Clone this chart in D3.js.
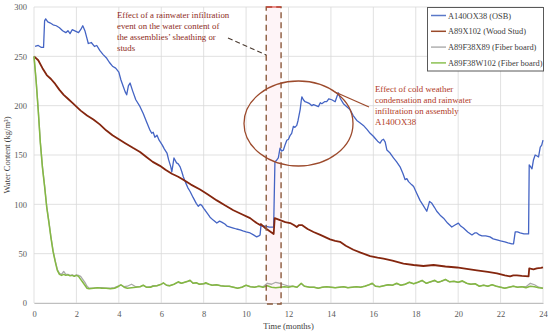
<!DOCTYPE html>
<html><head><meta charset="utf-8">
<script src="https://cdn.jsdelivr.net/npm/d3@7"></script>
<style>body{margin:0;background:#fff}svg{display:block}</style>
</head><body>
<svg id="c" width="550" height="333"></svg>
<script>
// ---------- DATA ----------
const xTicks = [0,2,4,6,8,10,12,14,16,18,20,22,24];
const yTicks = [0,50,100,150,200,250,300];
const seriesNames = ["A140OX38 (OSB)","A89X102 (Wood Stud)","A89F38X89 (Fiber board)","A89F38W102 (Fiber board)"];

const osbMonths = [0.05,0.2,0.35,0.45,0.5,0.55,0.65,0.75,0.9,1.05,1.2,1.35,1.5,1.6,1.7,1.8,1.9,2.0,2.1,2.2,2.3,2.4,2.5,2.56,2.7,2.85,2.96,3.1,3.25,3.43,3.55,3.7,3.85,4.0,4.1,4.2,4.3,4.37,4.45,4.53,4.65,4.8,5.0,5.15,5.3,5.45,5.55,5.62,5.7,5.8,5.9,6.05,6.15,6.27,6.35,6.45,6.5,6.55,6.6,6.65,6.72,6.8,6.89,6.97,7.04,7.15,7.25,7.36,7.5,7.65,7.75,7.83,7.91,8.0,8.07,8.2,8.3,8.45,8.62,8.75,8.85,9.0,9.1,9.25,9.4,9.55,9.72,9.85,10.0,10.19,10.35,10.5,10.6,10.66,10.7,10.9,11.1,11.3,11.36,11.45,11.52,11.6,11.68,11.76,11.85,11.92,12.0,12.08,12.15,12.23,12.3,12.39,12.45,12.55,12.6,12.63,12.7,12.78,12.9,13.0,13.1,13.18,13.3,13.41,13.5,13.57,13.7,13.8,13.9,14.04,14.12,14.2,14.28,14.35,14.45,14.59,14.75,14.9,15.05,15.22,15.35,15.53,15.7,15.85,16.0,16.08,16.2,16.32,16.4,16.48,16.56,16.64,16.79,16.95,17.1,17.26,17.4,17.5,17.58,17.66,17.8,17.9,18.05,18.2,18.35,18.52,18.6,18.65,18.76,18.88,18.99,19.15,19.31,19.5,19.7,19.85,20.01,20.12,20.25,20.45,20.65,20.78,20.88,21.0,21.12,21.3,21.5,21.65,21.83,22.0,22.2,22.35,22.53,22.61,22.69,22.8,22.92,23.1,23.32,23.35,23.42,23.48,23.55,23.63,23.72,23.79,23.87,23.94,24.0];
const osbValues = [260,261,259,259,286,288,285,284,282,281,279,276,274,276,273,277,276,275,274,277,281,276,268,263,264,260,261,256,252,248,244,240,238,234,226,220,214,211,220,223,215,206,199,192,184,176,172,173,168,170,165,160,156,152,145,138,133,140,147,145,142,141,138,133,128,122,117,113,107,101,98,100,99,96,94,90,87,84,81,83,82,80,78,77,76,75,74,73,72,71,69,67,68,69,78,78,77,77,143,145,147,157,154,155,161,165,166,170,172,179,178,180,185,196,205,209,206,204,203,202,200,201,200,199,203,202,204,204,207,206,205,204,209,213,207,202,199,196,190,185,183,180,176,172,169,167,164,162,165,166,163,155,152,147,143,138,131,125,126,123,120,118,111,104,99,93,99,103,101,97,93,89,86,81,77,79,81,78,76,72,69,71,71,69,68,68,67,65,64,63,62,61,60,60,72,72,71,70,70,140,138,136,145,150,149,148,158,160,165];

const studMonths = [0,0.2,0.4,0.6,0.8,1.0,1.2,1.4,1.6,1.8,2.0,2.2,2.5,2.8,3.1,3.4,3.7,4.0,4.3,4.68,5.0,5.3,5.6,5.94,6.2,6.5,6.8,7.04,7.4,7.83,8.2,8.62,9.0,9.4,9.8,10.19,10.5,10.66,10.7,10.9,11.1,11.3,11.35,11.6,11.85,12.08,12.25,12.39,12.5,12.63,12.9,13.18,13.5,13.96,14.2,14.43,14.7,15.06,15.4,15.85,16.2,16.48,16.9,17.42,17.9,18.36,18.6,18.84,19.4,19.94,20.4,20.88,21.4,21.83,22.2,22.45,22.6,22.77,23.0,23.32,23.35,23.55,23.71,23.9,24.0];
const studValues = [250,246,238,231,227,222,216,211,207,203,199,195,190,186,181,175,170,166,162,157,153,148,143,139,135,131,128,125,120,115,110,104,99,94,90,86,81,79,80,76,73,70,86,84,82,81,79,77,79,79,75,72,69,64.5,63,62,58,54,51,47.6,46,45,43,40,38.5,37.5,38,38.5,37,36,34.5,33,31.5,30,28,27,28,28,27.5,27,35,34,35,35.5,36];

const fiberMonths = [0,0.1,0.2,0.3,0.4,0.5,0.6,0.7,0.8,0.9,1.0,1.1,1.2,1.3,1.4,1.5,1.6,1.7,1.8,1.9,2.0,2.1,2.2,2.3,2.4,2.5,2.6,2.8,3.0,3.2,3.4,3.6,3.8,4.0,4.1,4.25,4.4,4.6,4.8,5.0,5.15,5.3,5.5,5.6,5.8,6.0,6.1,6.25,6.4,6.6,6.8,6.95,7.1,7.25,7.36,7.5,7.65,7.8,8.0,8.1,8.25,8.4,8.6,8.8,9.0,9.2,9.4,9.6,9.8,10.0,10.2,10.4,10.6,10.8,11.0,11.2,11.4,11.6,11.8,12.0,12.2,12.4,12.6,12.75,13.0,13.2,13.4,13.6,13.8,14.0,14.2,14.4,14.6,14.8,15.0,15.2,15.4,15.6,15.8,15.95,16.1,16.3,16.5,16.7,16.9,17.1,17.3,17.5,17.7,17.9,18.1,18.3,18.5,18.7,18.9,19.05,19.2,19.4,19.6,19.8,20.0,20.2,20.4,20.6,20.8,21.0,21.2,21.4,21.6,21.8,22.0,22.2,22.4,22.6,22.8,23.0,23.2,23.4,23.6,23.8,24.0];
const fiberX89Values = [250,226,196,163,138,119,98,83,67,53,43,34,30,29,32,29,29,28,28.5,27.5,28.5,28,27,24,21,17,15,15,15.5,15.5,15,15,15.5,17.5,18,16.5,17,19,16.5,16.5,18,16,16.5,17.5,17.5,19,20,18,17.5,19,21,20,21,22,22.5,20,20.5,19,19.5,20,19,18,18.5,17.5,17,17,16,15,16,18,16.5,16,17,16.5,20,19,21,20,18.5,17,17,16,19.5,17,16,16,15,16,16.5,16,15.5,16,16.5,15.5,16,16.5,16,17,18.5,19.5,17,16.5,17.5,18.5,18,19.5,18,19,21,19.5,21,22.5,20,21.5,22.5,21,22,23.5,21.5,22,21,22,20,19,19.5,17,18,17,18.5,17,16,15,16,17,16,16.5,16.5,20,18.5,16,15];
const fiberW102Values = [250,225,195,162,137,118,97,82,66,52,42,33,29,28,29,28,28.5,27.5,28,27,28,27,24,21,18,15,14.5,15,15.5,15,15,14.5,15,17,18.5,16,15,15.5,16,16.5,18,16,16,17,17.5,19,20.5,18,17.5,19,21.5,20,21,22,23,20,20.5,19,19.5,20.5,19,18,18.5,17.5,17,17,16,15,16,18,16.5,16,17,16,17.5,16,15.5,16,16.5,16,17,16,20,17,16,16,15,16,16.5,16,15.5,16,16.5,15.5,16,16.5,16,17,18.5,20,17,16.5,17.5,18.5,18,20,18,19,21,19.5,21,23,20,21.5,23,21,22,24,21.5,22,21,22.5,20,19,19.5,17,18,17,18.5,17,16,15,16,17,16,16.5,15.5,17,16.5,15.5,15];

const colors = ["#4464c4","#84260e","#a9a9a9","#84b942"];
const legendColors = ["#5a78c8","#9a4a2a","#b0b0b0","#8cc152"];

// ---------- LAYOUT ----------
const svg = d3.select("#c");
const m = {l:34, r:543, t:7, b:303};
const x = d3.scaleLinear().domain([0,24]).range([m.l, m.r]);
const y = d3.scaleLinear().domain([0,300]).range([m.b, m.t]);
const FONT = "'Liberation Serif','Times New Roman',serif";

// grid
svg.append("g").selectAll("line").data(yTicks).join("line")
  .attr("x1", m.l).attr("x2", m.r).attr("y1", d=>y(d)).attr("y2", d=>y(d))
  .attr("stroke", "#d9d9d9").attr("stroke-width", 0.8);
svg.append("g").selectAll("line").data(xTicks).join("line")
  .attr("x1", d=>x(d)).attr("x2", d=>x(d)).attr("y1", m.t).attr("y2", m.b)
  .attr("stroke", "#d9d9d9").attr("stroke-width", 0.8);

// event band (dashed rectangle)
const bandStart = 10.95, bandEnd = 11.65;
svg.append("rect").attr("x", x(bandStart)).attr("y", m.t)
  .attr("width", x(bandEnd)-x(bandStart)).attr("height", m.b - m.t + 1)
  .attr("fill", "#fef4f7").attr("stroke", "none");

// axes
const xAxis = d3.axisBottom(x).tickValues(xTicks).tickSize(0).tickPadding(8);
const gx = svg.append("g").attr("transform", `translate(0,${m.b})`).call(xAxis);
gx.select(".domain").attr("stroke", "#bfbfbf");
gx.selectAll("text").attr("font-family", FONT).attr("font-size", 8.5).attr("fill", "#595959");
const yAxis = d3.axisLeft(y).tickValues(yTicks).tickSize(0).tickPadding(7);
const gy = svg.append("g").attr("transform", `translate(${m.l},0)`).call(yAxis);
gy.select(".domain").remove();
gy.selectAll("text").attr("font-family", FONT).attr("font-size", 8.5).attr("fill", "#595959");

// series
const allData = [
  d3.zip(osbMonths, osbValues),
  d3.zip(studMonths, studValues),
  d3.zip(fiberMonths, fiberX89Values),
  d3.zip(fiberMonths, fiberW102Values)
];
const widths = [1.3, 1.8, 1.3, 1.5];
const line = d3.line().x(d=>x(d[0])).y(d=>y(d[1]));
allData.forEach((d,i)=>{
  svg.append("path").datum(d).attr("d", line).attr("fill","none")
    .attr("stroke", colors[i]).attr("stroke-width", widths[i]).attr("stroke-linejoin","round");
});

// dashed rectangle edges
const ann = svg.append("g");
ann.append("rect").attr("x", x(bandStart)).attr("y", m.t)
  .attr("width", x(bandEnd)-x(bandStart)).attr("height", m.b - m.t + 1)
  .attr("fill", "none").attr("stroke", "#8b5a3c").attr("stroke-width", 1.4)
  .attr("stroke-dasharray", "6,4");
ann.append("line").attr("x1", x(bandStart)).attr("x2", x(bandEnd)).attr("y1", m.t).attr("y2", m.t)
  .attr("stroke", "#e0302a").attr("stroke-width", 1);

// dashed pointer line
ann.append("line").attr("x1", 228).attr("y1", 38).attr("x2", x(bandStart)).attr("y2", 55)
  .attr("stroke", "#4a3a30").attr("stroke-width", 1.1).attr("stroke-dasharray", "5,3");

// ellipse
ann.append("ellipse").attr("cx", 298.5).attr("cy", 123.5).attr("rx", 54.5).attr("ry", 42.5)
  .attr("fill", "none").attr("stroke", "#9c4a2c").attr("stroke-width", 1.3);
ann.append("line").attr("x1", 335).attr("y1", 92).attr("x2", 369).attr("y2", 107)
  .attr("stroke", "#9c4a2c").attr("stroke-width", 1.3);

// annotation texts
const t1 = ["Effect of a rainwater infiltration","event on the water content of","the assemblies\u2019 sheathing or","studs"];
const t2 = ["Effect of cold weather","condensation and rainwater","infiltration on assembly","A140OX38"];
ann.append("text").attr("font-family", FONT).attr("font-size", 8.8).attr("fill", "#8e2c1c")
  .selectAll("tspan").data(t1).join("tspan").attr("x", 117).attr("y", (d,i)=>18+i*11).text(d=>d);
ann.append("text").attr("font-family", FONT).attr("font-size", 8.8).attr("fill", "#b03a26")
  .selectAll("tspan").data(t2).join("tspan").attr("x", 375).attr("y", (d,i)=>92+i*11).text(d=>d);

// axis titles
svg.append("text").attr("x", 288.5).attr("y", 329).attr("text-anchor","middle")
  .attr("font-family", FONT).attr("font-size", 8.5).attr("fill", "#404040").text("Time (months)");
svg.append("text").attr("transform", "translate(10,155) rotate(-90)").attr("text-anchor","middle")
  .attr("font-family", FONT).attr("font-size", 8.5).attr("fill", "#404040").text("Water Content (kg/m\u00B3)");

// legend
const lg = svg.append("g");
lg.append("rect").attr("x", 427.5).attr("y", 7.5).attr("width", 116).attr("height", 63.5)
  .attr("fill", "#fff").attr("stroke", "#595959").attr("stroke-width", 1);
seriesNames.forEach((n,i)=>{
  const yy = 15.5 + i*15.8;
  lg.append("line").attr("x1", 431).attr("x2", 446).attr("y1", yy).attr("y2", yy)
    .attr("stroke", legendColors[i]).attr("stroke-width", 1.5);
  lg.append("text").attr("x", 448).attr("y", yy + 3).attr("font-family", FONT)
    .attr("font-size", 8.4).attr("fill", "#404040").text(n);
});
</script>
</body></html>
